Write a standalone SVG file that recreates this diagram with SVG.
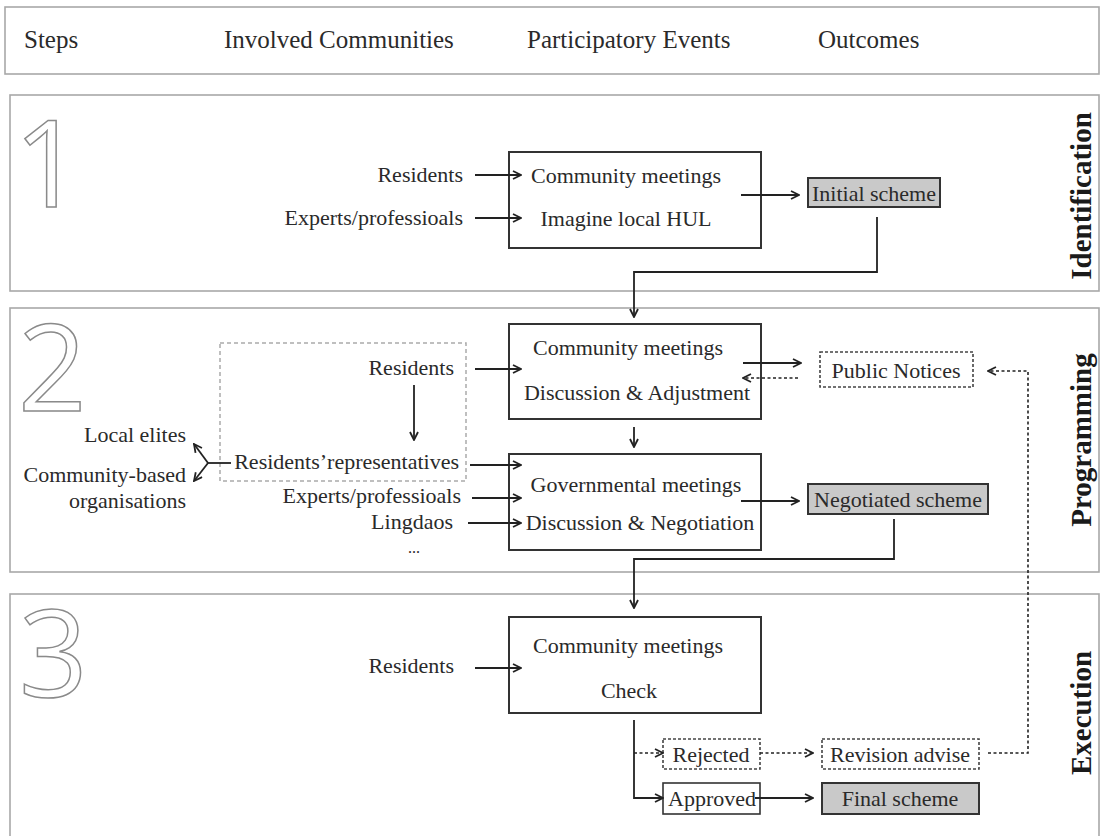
<svg xmlns="http://www.w3.org/2000/svg" width="1101" height="836" viewBox="0 0 1101 836">
<defs>
<style>
.t{font-family:"Liberation Serif","Times New Roman",serif;font-size:22px;fill:#2a2a2a}
.h{font-family:"Liberation Serif","Times New Roman",serif;font-size:25px;fill:#2a2a2a}
.v{font-family:"Liberation Serif","Times New Roman",serif;font-size:29px;font-weight:bold;fill:#1a1a1a}
.num{font-family:"Open Sans","Noto Sans",sans-serif;font-size:120px;font-weight:400;fill:#fff;stroke:#8a8a8a;stroke-width:1.5}
.sec{fill:#fff;stroke:#a8a8a8;stroke-width:1.6}
.box{fill:#fff;stroke:#333;stroke-width:2}
.out{fill:#c9c9c9;stroke:#333;stroke-width:2}
.dot{fill:#fff;stroke:#444;stroke-width:1.6;stroke-dasharray:3 2}
.grp{fill:none;stroke:#aaa;stroke-width:1.5;stroke-dasharray:4 3}
.ln{fill:none;stroke:#222;stroke-width:1.8}
.dl{fill:none;stroke:#222;stroke-width:1.6;stroke-dasharray:3 2.5}
</style>
<marker id="ah" viewBox="0 0 10 10" refX="9" refY="5" markerWidth="10" markerHeight="10" markerUnits="userSpaceOnUse" orient="auto">
<path d="M1,1 L9,5 L1,9" fill="none" stroke="#222" stroke-width="1.8"/>
</marker>
</defs>
<rect width="1101" height="836" fill="#fff"/>

<g id="header">
<rect class="sec" x="5" y="7" width="1094" height="67"/>
<text class="h" x="24" y="48">Steps</text>
<text class="h" x="224" y="48">Involved Communities</text>
<text class="h" x="527" y="48">Participatory Events</text>
<text class="h" x="818" y="48">Outcomes</text>
</g>

<g id="sections">
<rect class="sec" x="10" y="95" width="1089" height="196"/>
<rect class="sec" x="10" y="308" width="1089" height="264"/>
<rect class="sec" x="10" y="594" width="1089" height="250"/>
<text class="num" x="14" y="207">1</text>
<text class="num" x="18" y="411">2</text>
<text class="num" x="19" y="697">3</text>
<text class="v" transform="translate(1091,196) rotate(-90)" text-anchor="middle">Identification</text>
<text class="v" transform="translate(1091,440) rotate(-90)" text-anchor="middle">Programming</text>
<text class="v" transform="translate(1091,713) rotate(-90)" text-anchor="middle">Execution</text>
</g>

<g id="s1-actors">
<text class="t" x="463" y="182" text-anchor="end">Residents</text>
<text class="t" x="463" y="225" text-anchor="end">Experts/professioals</text>
</g>
<g id="s1-event">
<rect class="box" x="509" y="152" width="252" height="96"/>
<text class="t" x="626" y="183" text-anchor="middle">Community meetings</text>
<text class="t" x="626" y="226" text-anchor="middle">Imagine local HUL</text>
</g>
<g id="s1-outcome">
<rect class="out" x="808" y="178" width="132" height="29"/>
<text class="t" x="874" y="201" text-anchor="middle">Initial scheme</text>
</g>

<g id="s2-group">
<rect class="grp" x="220" y="343" width="246" height="138"/>
<text class="t" x="454" y="375" text-anchor="end">Residents</text>
<text class="t" x="459" y="469" text-anchor="end">Residents’representatives</text>
</g>
<g id="s2-others">
<text class="t" x="186" y="442" text-anchor="end">Local elites</text>
<text class="t" x="186" y="482" text-anchor="end">Community-based</text>
<text class="t" x="186" y="508" text-anchor="end">organisations</text>
<text class="t" x="461" y="503" text-anchor="end">Experts/professioals</text>
<text class="t" x="453" y="529" text-anchor="end">Lingdaos</text>
<text class="t" x="414" y="553" text-anchor="middle" style="font-size:16px">...</text>
</g>
<g id="s2-event-a">
<rect class="box" x="509" y="324" width="252" height="95"/>
<text class="t" x="628" y="355" text-anchor="middle">Community meetings</text>
<text class="t" x="637" y="400" text-anchor="middle">Discussion &amp; Adjustment</text>
</g>
<g id="s2-notices">
<rect class="dot" x="820" y="352" width="153" height="35"/>
<text class="t" x="896" y="378" text-anchor="middle">Public Notices</text>
</g>
<g id="s2-event-b">
<rect class="box" x="509" y="454" width="252" height="96"/>
<text class="t" x="636" y="492" text-anchor="middle">Governmental meetings</text>
<text class="t" x="640" y="530" text-anchor="middle">Discussion &amp; Negotiation</text>
</g>
<g id="s2-outcome">
<rect class="out" x="808" y="484" width="180" height="30"/>
<text class="t" x="898" y="507" text-anchor="middle">Negotiated scheme</text>
</g>

<g id="s3-actors">
<text class="t" x="454" y="673" text-anchor="end">Residents</text>
</g>
<g id="s3-event">
<rect class="box" x="509" y="617" width="252" height="96"/>
<text class="t" x="628" y="653" text-anchor="middle">Community meetings</text>
<text class="t" x="629" y="698" text-anchor="middle">Check</text>
</g>
<g id="s3-rejected">
<rect class="dot" x="663" y="739" width="97" height="30"/>
<text class="t" x="711" y="762" text-anchor="middle">Rejected</text>
</g>
<g id="s3-revision">
<rect class="dot" x="822" y="739" width="157" height="30"/>
<text class="t" x="900" y="762" text-anchor="middle">Revision advise</text>
</g>
<g id="s3-approved">
<rect class="box" x="663" y="783" width="97" height="31" style="stroke-width:1.6"/>
<text class="t" x="712" y="806" text-anchor="middle">Approved</text>
</g>
<g id="s3-final">
<rect class="out" x="822" y="783" width="157" height="31"/>
<text class="t" x="900" y="806" text-anchor="middle">Final scheme</text>
</g>

<g id="connectors">
<line class="ln" x1="475" y1="175" x2="521" y2="175" marker-end="url(#ah)"/>
<line class="ln" x1="475" y1="218" x2="521" y2="218" marker-end="url(#ah)"/>
<line class="ln" x1="741" y1="195" x2="799" y2="195" marker-end="url(#ah)"/>
<polyline class="ln" points="877,217 877,272 634,272 634,317" marker-end="url(#ah)"/>

<line class="ln" x1="475" y1="369" x2="521" y2="369" marker-end="url(#ah)"/>
<line class="ln" x1="414" y1="385" x2="414" y2="440" marker-end="url(#ah)"/>
<line class="ln" x1="470" y1="465" x2="521" y2="465" marker-end="url(#ah)"/>
<line class="ln" x1="472" y1="498" x2="521" y2="498" marker-end="url(#ah)"/>
<line class="ln" x1="468" y1="523" x2="521" y2="523" marker-end="url(#ah)"/>
<polyline class="ln" points="231,463 208,463"/>
<line class="ln" x1="208" y1="463" x2="194" y2="444" marker-end="url(#ah)"/>
<line class="ln" x1="208" y1="463" x2="194" y2="481" marker-end="url(#ah)"/>
<line class="ln" x1="743" y1="363" x2="801" y2="363" marker-end="url(#ah)"/>
<line class="dl" x1="798" y1="378" x2="743" y2="378" marker-end="url(#ah)"/>
<line class="ln" x1="634" y1="427" x2="634" y2="447" marker-end="url(#ah)"/>
<line class="ln" x1="741" y1="501" x2="799" y2="501" marker-end="url(#ah)"/>
<polyline class="ln" points="894,519 894,559 634,559 634,608" marker-end="url(#ah)"/>
<polyline class="dl" points="988,753 1028,753 1028,371 988,371" marker-end="url(#ah)"/>

<line class="ln" x1="475" y1="668" x2="521" y2="668" marker-end="url(#ah)"/>
<polyline class="ln" points="634,720 634,798 663,798" marker-end="url(#ah)"/>
<line class="dl" x1="634" y1="753" x2="663" y2="753" marker-end="url(#ah)"/>
<line class="dl" x1="760" y1="753" x2="813" y2="753" marker-end="url(#ah)"/>
<line class="ln" x1="755" y1="798" x2="813" y2="798" marker-end="url(#ah)"/>
</g>
</svg>
